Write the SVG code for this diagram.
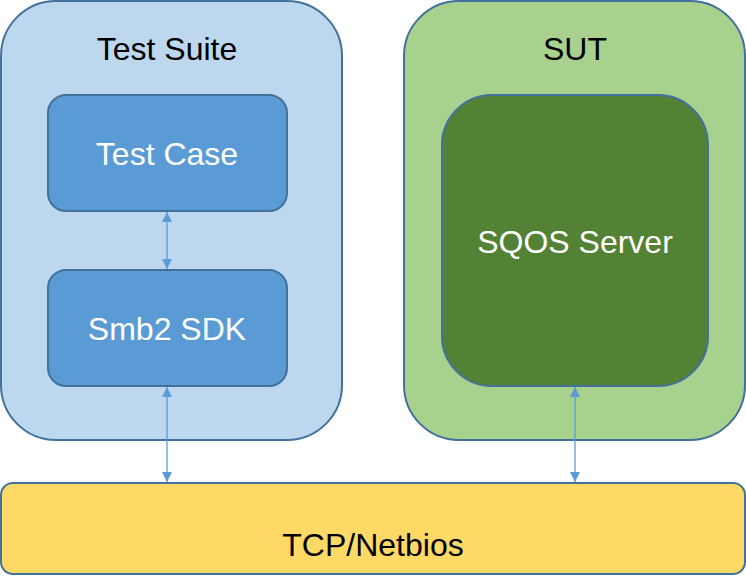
<svg xmlns="http://www.w3.org/2000/svg" width="746" height="588" viewBox="0 0 746 588">
<defs>
<style>
.box{stroke:#41719C;stroke-width:2}
.lbl{font-family:"Liberation Sans",Arial,sans-serif;font-size:32px;text-anchor:middle}
.dark{fill:#000}
.light{fill:#fff}
.conn{stroke:#5B9BD5;stroke-width:1.3;fill:none;marker-start:url(#ah);marker-end:url(#ah)}
</style>
<marker id="ah" viewBox="0 0 10 10" refX="10" refY="5" markerWidth="10" markerHeight="10" markerUnits="userSpaceOnUse" orient="auto-start-reverse">
<path d="M0,0 L10,5 L0,10 z" fill="#5B9BD5"/>
</marker>
</defs>
<rect width="746" height="588" fill="#fff"/>
<g id="test-suite">
<rect class="box" x="1" y="1" width="341" height="439" rx="55" ry="55" fill="#BDD7EE"/>
<text class="lbl dark" x="167" y="60">Test Suite</text>
</g>
<g id="sut">
<rect class="box" x="404" y="1" width="341" height="439" rx="55" ry="55" fill="#A9D18E"/>
<text class="lbl dark" x="575" y="60">SUT</text>
</g>
<g id="test-case">
<rect class="box" x="48" y="95" width="239" height="116" rx="18" ry="18" fill="#5B9BD5"/>
<text class="lbl light" x="167" y="165">Test Case</text>
</g>
<g id="smb2-sdk">
<rect class="box" x="48" y="270" width="239" height="116" rx="18" ry="18" fill="#5B9BD5"/>
<text class="lbl light" x="167" y="340">Smb2 SDK</text>
</g>
<g id="sqos-server">
<rect class="box" x="442" y="95" width="266" height="291" rx="50" ry="50" fill="#548235"/>
<text class="lbl light" x="575" y="253">SQOS Server</text>
</g>
<g id="tcp-netbios">
<rect class="box" x="1" y="483" width="744" height="91" rx="12" ry="12" fill="#FFD966"/>
<text class="lbl dark" x="373" y="556">TCP/Netbios</text>
</g>
<g id="connectors">
<line class="conn" x1="167" y1="212" x2="167" y2="269"/>
<line class="conn" x1="167" y1="387" x2="167" y2="482"/>
<line class="conn" x1="575" y1="387" x2="575" y2="482"/>
</g>
</svg>
